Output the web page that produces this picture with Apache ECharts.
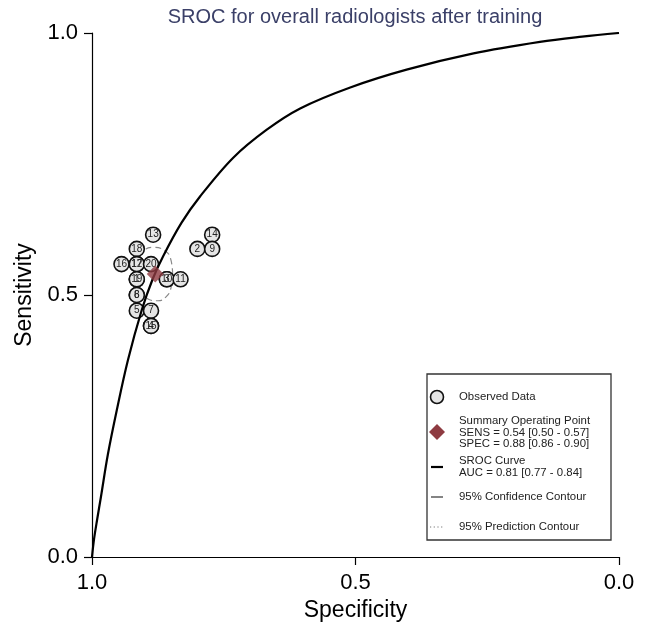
<!DOCTYPE html>
<html>
<head>
<meta charset="utf-8">
<script src="https://cdn.jsdelivr.net/npm/echarts@6/dist/echarts.min.js"></script>
<style>
html,body{margin:0;padding:0;background:#fff;}
#chart{width:645px;height:622px;}
</style>
</head>
<body>
<div id="chart"></div>
<script>
// ---- data ----
const titleText = 'SROC for overall radiologists after training';
const xTicks = [0, 0.5, 1];
const yTicks = [0, 0.5, 1];
// study points, in drawing order (hidden/overlapped first)
const studyIds  = ['17','1','3','6','4','13','14','18','2','9','16','12','20','19','10','11','8','5','7','15'];
const studySpec = [0.915,0.915,0.858,0.915,0.888,0.884,0.772,0.915,0.800,0.772,0.944,0.915,0.888,0.915,0.858,0.832,0.915,0.915,0.888,0.888];
const studySens = [0.559,0.530,0.530,0.500,0.441,0.615,0.615,0.588,0.588,0.588,0.559,0.559,0.559,0.530,0.530,0.530,0.500,0.470,0.470,0.441];
// summary operating point
const summarySpec = 0.88;
const summarySens = 0.54;
// SROC curve (specificity, sensitivity)
const srocSpec = [1.000,0.996,0.990,0.983,0.970,0.953,0.932,0.906,0.885,0.865,0.830,0.795,0.732,0.669,0.605,0.510,0.403,0.276,0.150,0.070,0.000];
const srocSens = [0.000,0.035,0.073,0.115,0.195,0.280,0.375,0.470,0.530,0.574,0.638,0.688,0.762,0.815,0.856,0.896,0.930,0.961,0.983,0.993,1.000];
// 95% confidence contour
const ciSpec = [0.847,0.850,0.861,0.885,0.902,0.911,0.913,0.909,0.899,0.875,0.860,0.850,0.847];
const ciSens = [0.540,0.566,0.584,0.591,0.584,0.566,0.540,0.514,0.496,0.489,0.496,0.514,0.540];
// legend text
const legendLines = [
  ['Observed Data'],
  ['Summary Operating Point','SENS = 0.54 [0.50 - 0.57]','SPEC = 0.88 [0.86 - 0.90]'],
  ['SROC Curve','AUC = 0.81 [0.77 - 0.84]'],
  ['95% Confidence Contour'],
  ['95% Prediction Contour']
];

const FONT = 'Liberation Sans, Arial, Helvetica, sans-serif';
const chart = echarts.init(document.getElementById('chart'), null, {renderer:'canvas'});

const studyData = studyIds.map((id,i)=>({value:[studySpec[i], studySens[i]], name:id}));
const srocData = srocSpec.map((s,i)=>[s, srocSens[i]]);
const ciData = ciSpec.map((s,i)=>[s, ciSens[i]]);
const diamondPath = 'path://M0,-10 L10,0 L0,10 L-10,0 Z';

// legend graphics
const LX = 427, LY = 374, LW = 184, LH = 166;
const g = [];
g.push({type:'text', x:355, y:17, style:{text:titleText, fill:'#3b4068', font:'20px '+FONT, textAlign:'center', textVerticalAlign:'middle'}});
g.push({type:'rect', shape:{x:LX, y:LY, width:LW, height:LH}, style:{fill:'#fff', stroke:'#333', lineWidth:1.3}, z:100});
const txt = (t,x,y)=>({type:'text', x:x, y:y, z:101, style:{text:t, fill:'#222', font:'11.4px '+FONT, textVerticalAlign:'middle'}});
g.push({type:'circle', shape:{cx:437, cy:397, r:6.5}, style:{fill:'#e5e5e5', stroke:'#111', lineWidth:1.6}, z:101});
g.push(txt(legendLines[0][0], 459, 397));
g.push({type:'polygon', shape:{points:[[437,424],[445,432],[437,440],[429,432]]}, style:{fill:'#8e3b41'}, z:101});
legendLines[1].forEach((t,i)=>g.push(txt(t, 459, 421+i*11.5)));
g.push({type:'line', shape:{x1:431, y1:467, x2:443, y2:467}, style:{stroke:'#000', lineWidth:2.2}, z:101});
legendLines[2].forEach((t,i)=>g.push(txt(t, 459, 461+i*12)));
g.push({type:'line', shape:{x1:431, y1:497, x2:443, y2:497}, style:{stroke:'#333', lineWidth:1.2}, z:101});
g.push(txt(legendLines[3][0], 459, 497));
g.push({type:'line', shape:{x1:430, y1:527, x2:444, y2:527}, style:{stroke:'#777', lineWidth:1, lineDash:[1.2,2.5]}, z:101});
g.push(txt(legendLines[4][0], 459, 527));

const axisCommon = {
  type:'value', min:0, max:1, interval:0.5,
  splitLine:{show:false},
  axisLine:{show:true, onZero:false, lineStyle:{color:'#000', width:1.2}},
  axisTick:{show:true, length:8, lineStyle:{color:'#000', width:1.2}},
  axisLabel:{formatter:v=>v.toFixed(1), fontSize:22, color:'#000', fontFamily:FONT},
  nameLocation:'middle',
  nameTextStyle:{fontSize:23, color:'#000', fontFamily:FONT}
};

chart.setOption({
  animation:false,
  backgroundColor:'#fff',
  grid:{left:92, right:26, top:33, bottom:65, containLabel:false, outerBoundsMode:'none'},
  xAxis:Object.assign({}, axisCommon, {inverse:true, name:'Specificity', nameGap:39,
    axisLabel:Object.assign({}, axisCommon.axisLabel, {margin:15})}),
  yAxis:Object.assign({}, axisCommon, {name:'Sensitivity', nameGap:49,
    axisLabel:Object.assign({}, axisCommon.axisLabel, {margin:14})}),
  graphic:g,
  series:[
    {type:'line', data:ciData, smooth:0.5, symbol:'none', z:1,
     lineStyle:{color:'#888', width:1.2, type:[6,4]}},
    {type:'scatter', data:studyData, symbol:'circle', symbolSize:15, z:2,
     itemStyle:{color:'#e5e5e5', borderColor:'#111', borderWidth:1.6, opacity:1},
     label:{show:true, position:'inside', formatter:p=>p.name, fontSize:10, color:'#222', fontFamily:FONT}},
    {type:'line', data:srocData, smooth:0.35, symbol:'none', z:3,
     lineStyle:{color:'#000', width:2.2}},
    {type:'scatter', data:[[summarySpec, summarySens]], symbol:diamondPath, symbolSize:[17,17], z:4,
     itemStyle:{color:'#8e3b41'}}
  ]
});
</script>
</body>
</html>
